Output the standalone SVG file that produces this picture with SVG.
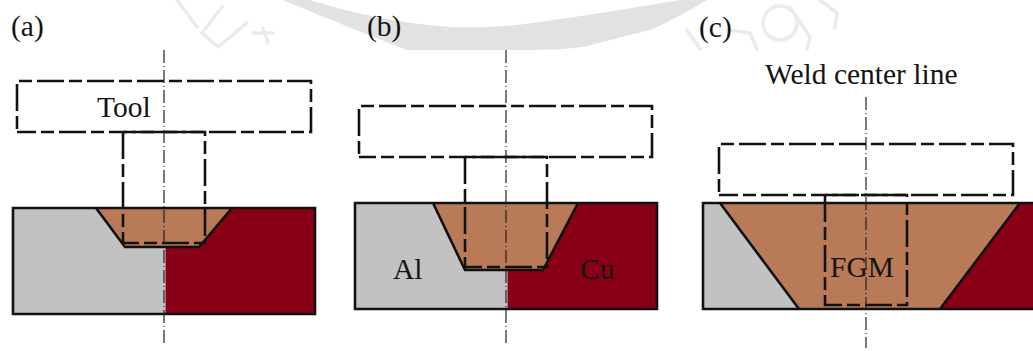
<svg xmlns="http://www.w3.org/2000/svg" width="1033" height="351" viewBox="0 0 1033 351">
<style>
text{font-family:"Liberation Serif","Times New Roman",serif;fill:#141414}
.lab{font-size:29.5px}
.s{stroke:#111;stroke-width:2.6;stroke-linejoin:miter}
.t{fill:none;stroke:#111;stroke-width:2.6;stroke-dasharray:27 5 13 5;stroke-dashoffset:29}
.p{fill:none;stroke:#111;stroke-width:2.6;stroke-dasharray:27 5 13 5}
.c{fill:none;stroke:#222;stroke-width:1.2;stroke-dasharray:13 3 1 3}
.al{fill:#c2c2c2}.cu{fill:#880015}.fgm{fill:#b97a57}
.wm{fill:none;stroke:#ebebeb;stroke-width:3.5;stroke-linecap:round}
</style>
<rect width="1033" height="351" fill="#fff"/>
<g id="watermark">
<path d="M283 0L310 0Q380 22 450 27Q500 28 533 23Q610 12 680 0L707 0Q670 22 650 30Q610 40 583 47Q560 50 530 50L407 50Q340 24 283 0Z" fill="#e2e2e2"/>
<path class="wm" d="M177 0L197 27M222 7L202 33L218 47L247 23M253 33L273 33M263 28L268 43"/>
<path class="wm" d="M687 30L700 49"/>
<circle class="wm" cx="780" cy="23" r="17"/>
<path class="wm" d="M790 7L810 37L807 49M730 30L750 33L757 49M820 0L837 13L835 28"/>
</g>
<g id="panel-a">
<rect class="al" x="13" y="208" width="152.5" height="106"/>
<rect class="cu" x="165.5" y="208" width="149.5" height="106"/>
<path class="fgm" d="M96 208H232L199 247H125Z"/>
<path class="s" fill="none" d="M13 208H315V314H13ZM96 208L125 247H199L232 208"/>
<path class="t" d="M17 132V81H311V132H17"/>
<path class="p" d="M123 132V243H205V132H123"/>
<text class="lab" x="11" y="36">(a)</text>
<text class="lab" x="97" y="117">Tool</text>
</g>
<g id="panel-b">
<rect class="al" x="355" y="203" width="152.5" height="106"/>
<rect class="cu" x="507.5" y="203" width="149.5" height="106"/>
<path class="fgm" d="M433 203H578L543 270H465Z"/>
<path class="s" fill="none" d="M355 203H657V309H355ZM433 203L465 270H543L578 203"/>
<path class="t" d="M359 157V106H652V157H359"/>
<path class="p" d="M465 157V267H547V157H465"/>
<text class="lab" x="367" y="36">(b)</text>
<text class="lab" x="393" y="279">Al</text>
<text class="lab" x="580" y="279">Cu</text>
</g>
<g id="panel-c">
<rect class="fgm" x="703" y="203" width="340" height="106"/>
<path class="al" d="M703 203H720L799 309H703Z"/>
<path class="cu" d="M1020 203H1040V309H940Z"/>
<path class="s" fill="none" d="M1040 203H703V309H1040M720 203L799 309M1020 203L940 309"/>
<path class="t" d="M719 195V144H1013V195H719"/>
<path class="p" d="M825 195V305H907V195H825"/>
<text class="lab" x="699" y="37">(c)</text>
<text class="lab" x="765" y="84">Weld center line</text>
<text class="lab" x="830" y="277">FGM</text>
</g>
<g id="connectors">
<path class="c" d="M164 50V345"/>
<path class="c" d="M506 50V345"/>
<path class="c" d="M866 97V348"/>
</g>
</svg>
